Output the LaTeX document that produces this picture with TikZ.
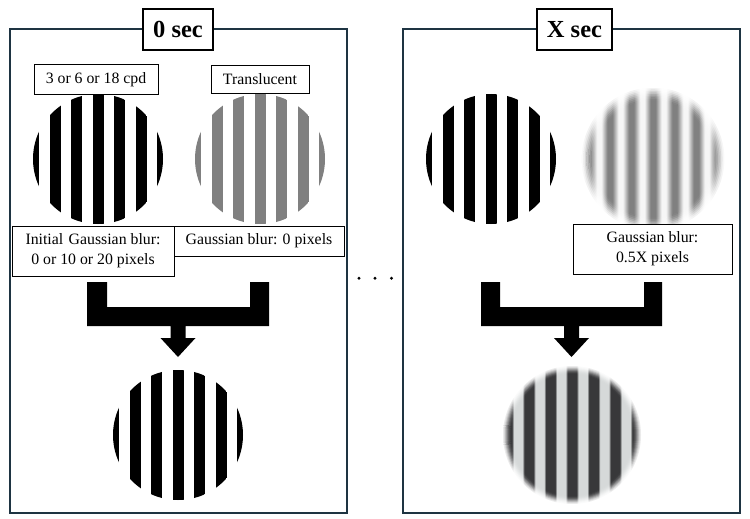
\documentclass[tikz,border=0pt]{standalone}
\usepackage{fontspec}
\setmainfont{Liberation Serif}
\definecolor{panelc}{RGB}{30,52,66}
\definecolor{stripegray}{RGB}{128,128,128}
\definecolor{softwhite}{RGB}{246,246,246}
\definecolor{darkstripe}{RGB}{56,56,58}
\definecolor{lightgap}{RGB}{214,217,217}
% blurred translucent stripes (width 150bp, stripe centres every 21.5bp)
\pgfdeclarehorizontalshading{blurgray}{140bp}{%
color(0bp)=(softwhite); color(2bp)=(softwhite); color(8bp)=(stripegray); color(13bp)=(stripegray); color(19bp)=(softwhite);
color(23.5bp)=(softwhite); color(29.5bp)=(stripegray); color(34.5bp)=(stripegray); color(40.5bp)=(softwhite);
color(45bp)=(softwhite); color(51bp)=(stripegray); color(56bp)=(stripegray); color(62bp)=(softwhite);
color(66.5bp)=(softwhite); color(72.5bp)=(stripegray); color(77.5bp)=(stripegray); color(83.5bp)=(softwhite);
color(88bp)=(softwhite); color(94bp)=(stripegray); color(99bp)=(stripegray); color(105bp)=(softwhite);
color(109.5bp)=(softwhite); color(115.5bp)=(stripegray); color(120.5bp)=(stripegray); color(126.5bp)=(softwhite);
color(131bp)=(softwhite); color(137bp)=(stripegray); color(142bp)=(stripegray); color(148bp)=(softwhite);
color(150bp)=(softwhite)}
% combined result: dark stripes on light gray
\pgfdeclarehorizontalshading{blurdark}{140bp}{%
color(0bp)=(lightgap); color(4bp)=(lightgap); color(6bp)=(darkstripe); color(15bp)=(darkstripe); color(17bp)=(lightgap);
color(25.5bp)=(lightgap); color(27.5bp)=(darkstripe); color(36.5bp)=(darkstripe); color(38.5bp)=(lightgap);
color(47bp)=(lightgap); color(49bp)=(darkstripe); color(58bp)=(darkstripe); color(60bp)=(lightgap);
color(68.5bp)=(lightgap); color(70.5bp)=(darkstripe); color(79.5bp)=(darkstripe); color(81.5bp)=(lightgap);
color(90bp)=(lightgap); color(92bp)=(darkstripe); color(101bp)=(darkstripe); color(103bp)=(lightgap);
color(111.5bp)=(lightgap); color(113.5bp)=(darkstripe); color(122.5bp)=(darkstripe); color(124.5bp)=(lightgap);
color(133bp)=(lightgap); color(135bp)=(darkstripe); color(144bp)=(darkstripe); color(146bp)=(lightgap);
color(150bp)=(lightgap)}
\newcommand\sharpgrating[3]{%
  \begin{scope}
    \clip (#1,#2) circle[radius=65pt];
    \foreach \k in {-3,...,3}
      \fill[#3, shift={(#1,#2)}] (\k*21.5-5.5,-70) rectangle ++(11,140);
  \end{scope}}
% #1 x, #2 y, #3 radius, #4 shading, #5 spread factor
\newcommand\softgrating[5]{%
  \foreach \dr/\op in {4/0.1, 3/0.111, 2/0.1875, 1/0.231, 0/0.3, -1/0.429, -2/0.5, -3/0.7, -4/1} {
    \pgfmathsetmacro\rr{#3+#5*\dr}
    \begin{scope}[transparency group, opacity=\op]
      \clip (#1,#2) circle[radius=\rr pt];
      \node[inner sep=0pt, outer sep=0pt] at (#1,#2) {\pgfuseshading{#4}};
    \end{scope}
  }}
\tikzset{
  panel/.style={draw=panelc, line width=2pt},
  titlebox/.style={draw=black, line width=1.6pt, fill=white, inner sep=0pt,
    minimum height=41pt, font=\bfseries\fontsize{24.5}{28}\selectfont},
  label/.style={draw=black, line width=0.9pt, fill=white, inner sep=0pt, align=center,
    font=\fontsize{15.8}{20}\selectfont},
  bracket/.style={fill=black},
}
\begin{document}
\begin{tikzpicture}[x=1pt, y=-1pt]
\useasboundingbox (0,0) rectangle (750,519);
% panels
\draw[panel] (10,29) rectangle (347,513);
\draw[panel] (403,29) rectangle (740,513);
% gratings, left panel
\coordinate (g1) at (98,159);
\coordinate (g2) at (260,159);
\coordinate (g3) at (178,435);
\sharpgrating{98}{159}{black}
\sharpgrating{260}{159}{stripegray}
\sharpgrating{178}{435}{black}
% gratings, right panel
\coordinate (g4) at (491,159);
\coordinate (g5) at (653,159);
\coordinate (g6) at (572,435);
\sharpgrating{491}{159}{black}
\softgrating{653}{159}{65}{blurgray}{1.6}
\softgrating{572}{435}{65}{blurdark}{1}
% titles
\node[titlebox, minimum width=70pt] (t0) at (178,29.5) {0 sec};
\node[titlebox, minimum width=75pt] (tx) at (574.5,29.5) {X sec};
% labels
\node[label, minimum width=124pt, minimum height=30pt] (cpd) at (96,79.5) {3 or 6 or 18 cpd};
\node[label, minimum width=98pt, minimum height=28pt] (trans) at (260,79) {Translucent};
\node[label, minimum width=162pt, minimum height=50pt] (init) at (93,251) {Initial\hspace{1.5pt} Gaussian blur:\\0 or 10 or 20 pixels};
\node[label, minimum width=170pt, minimum height=30pt] (gb0) at (259,241) {Gaussian blur: 0 pixels};
\node[label, minimum width=159pt, minimum height=50pt] (gbx) at (652.5,249) {Gaussian blur:\\0.5X pixels};
% bracket arrows
\fill[bracket] (87,282) -- (107,282) -- (107,307) -- (250,307) -- (250,282) -- (269,282)
  -- (269,326) -- (185.5,326) -- (185.5,338) -- (195.5,338) -- (178,357) -- (160.5,338)
  -- (170.5,338) -- (170.5,326) -- (87,326) -- cycle;
\fill[bracket] (481,282) -- (500,282) -- (500,307) -- (644,307) -- (644,282) -- (662,282)
  -- (662,326) -- (579,326) -- (579,338) -- (589,338) -- (571.5,357) -- (554,338)
  -- (564,338) -- (564,326) -- (481,326) -- cycle;
% dots
\foreach \x [count=\i] in {359,375,391.5}
  \fill (\x,278.3) circle[radius=1.6pt] coordinate (dot\i);
\end{tikzpicture}
\end{document}
